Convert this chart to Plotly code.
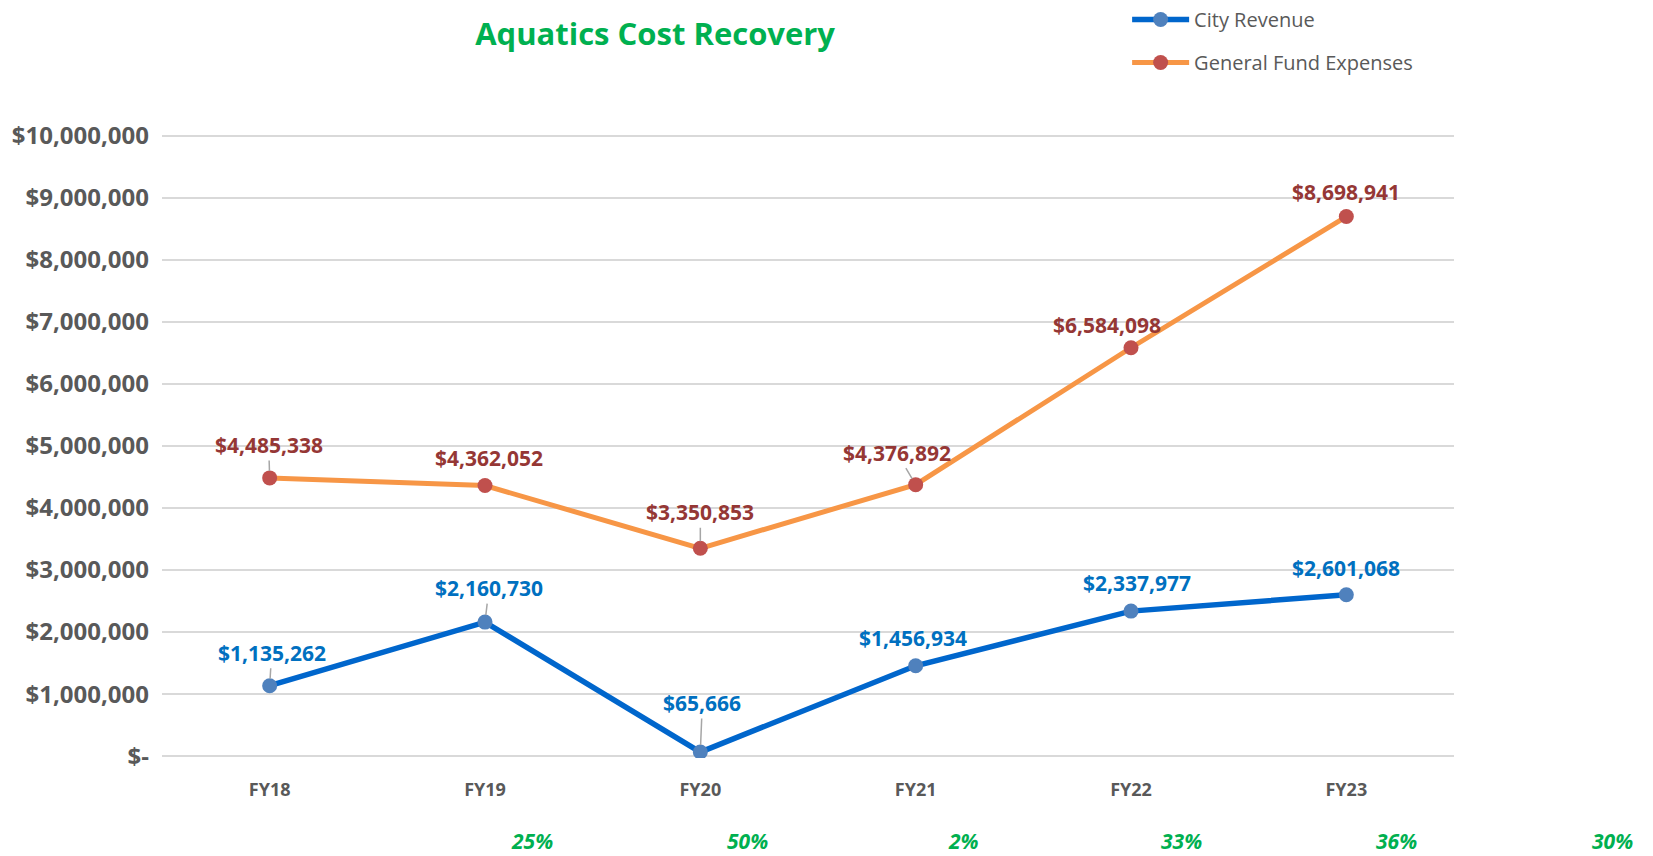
import plotly.graph_objects as go

categories = ["FY18", "FY19", "FY20", "FY21", "FY22", "FY23"]
city_revenue = [1135262, 2160730, 65666, 1456934, 2337977, 2601068]
gf_expenses = [4485338, 4362052, 3350853, 4376892, 6584098, 8698941]
y_ticks = [0, 1000000, 2000000, 3000000, 4000000, 5000000, 6000000, 7000000, 8000000, 9000000, 10000000]

# label offsets in pixels (dx, dy, leader visible)
rev_offsets = [(2, -33, True), (4, -34, True), (2, -49, True), (-3, -28, False), (6, -28, False), (0, -27, False)]
exp_offsets = [(-1, -33, True), (4, -28, False), (0, -36, True), (-19, -32, True), (-24, -23, False), (0, -25, False)]
# horizontal shift (in category units) of the cost-recovery percentages
pct_shift = [0.22, 0.22, 0.22, 0.235, 0.235, 0.235]

FONT = "Open Sans"
GREY = "#595959"
BLUE_LINE = "#0066CC"
BLUE_MARK = "#4F81BD"
BLUE_LBL = "#0070C0"
ORANGE_LINE = "#F79646"
RED_MARK = "#C0504D"
RED_LBL = "#953735"
GREEN = "#00B050"

fig = go.Figure()
fig.add_trace(go.Scatter(
    x=categories, y=city_revenue, name="City Revenue", mode="lines+markers",
    line=dict(color=BLUE_LINE, width=5.5), marker=dict(color=BLUE_MARK, size=15),
    legendgroup="a"))
fig.add_trace(go.Scatter(
    x=categories, y=gf_expenses, name="General Fund Expenses", mode="lines+markers",
    line=dict(color=ORANGE_LINE, width=5), marker=dict(color=RED_MARK, size=15),
    legendgroup="b"))

annotations = []
def money(v):
    return f"${v:,}"

for series, offs, col in ((city_revenue, rev_offsets, BLUE_LBL), (gf_expenses, exp_offsets, RED_LBL)):
    for c, v, (dx, dy, lead) in zip(categories, series, offs):
        annotations.append(dict(
            x=c, y=v, xref="x", yref="y", text=money(v), showarrow=True,
            ax=dx, ay=dy, arrowhead=0, arrowwidth=1.5, standoff=7,
            arrowcolor="#A6A6A6" if lead else "rgba(0,0,0,0)",
            font=dict(family=FONT, size=21, color=col, weight="bold")))

# cost recovery percentages (shown shifted one category to the right)
n = len(categories)
for i, (r, e) in enumerate(zip(city_revenue, gf_expenses)):
    pct = round(r / e * 100)
    xpos = (i + 1 + pct_shift[i] + 0.5) / n
    annotations.append(dict(
        x=xpos, y=-0.1335, xref="paper", yref="paper", text=f"<i><b>{pct}%</b></i>",
        showarrow=False, xanchor="center", yanchor="middle",
        font=dict(family=FONT, size=21, color=GREEN)))

fig.update_layout(
    width=1653, height=856,
    margin=dict(l=162, r=199, t=134, b=98, autoexpand=False),
    paper_bgcolor="white", plot_bgcolor="white",
    title=dict(text="<b>Aquatics Cost Recovery</b>", x=0.3963, xref="container", xanchor="center",
               y=1 - 34 / 856, yref="container", yanchor="middle",
               font=dict(family=FONT, size=31, color=GREEN)),
    legend=dict(x=0.747, y=1.009, xref="paper", yref="container", xanchor="left", yanchor="top",
                traceorder="grouped", tracegroupgap=14, itemwidth=57,
                font=dict(family=FONT, size=20, color=GREY)),
    annotations=annotations,
    showlegend=True,
)
fig.update_xaxes(type="category", range=[-0.5, n - 0.5], showgrid=False, zeroline=False,
                 showline=False, ticks="", ticklabelstandoff=19,
                 tickfont=dict(family=FONT, size=18, color=GREY, weight="bold"))
fig.update_yaxes(range=[-30000, 10030000], tickvals=y_ticks,
                 ticktext=[money(v) if v else "$-" for v in y_ticks],
                 showgrid=True, gridcolor="#D9D9D9", gridwidth=1.5, zeroline=False,
                 showline=False, ticks="", ticklabelstandoff=12,
                 tickfont=dict(family=FONT, size=24, color=GREY, weight="bold"))

fig.write_html("out.html", config={"displayModeBar": False},
               post_script="document.body.style.margin='0';")
